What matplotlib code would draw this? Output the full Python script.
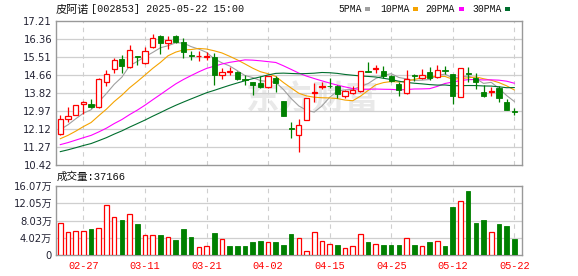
import matplotlib
matplotlib.use("Agg")
import matplotlib.pyplot as plt
import numpy as np
import pandas as pd
from matplotlib.patches import Rectangle

# ---------------- data ----------------
dates = ["02-24","02-25","02-26","02-27","02-28","03-03","03-04","03-05","03-06","03-07",
         "03-10","03-11","03-12","03-13","03-14","03-17","03-18","03-19","03-20","03-21",
         "03-24","03-25","03-26","03-27","03-28","03-31","04-01","04-02","04-03","04-07",
         "04-08","04-09","04-10","04-11","04-14","04-15","04-16","04-17","04-18","04-21",
         "04-22","04-23","04-24","04-25","04-28","04-29","04-30","05-06","05-07","05-08",
         "05-09","05-12","05-13","05-14","05-15","05-16","05-19","05-20","05-21","05-22"]

opens = [11.90,12.59,12.79,13.30,13.31,13.14,14.35,14.96,15.43,15.02,
         15.54,15.23,15.98,16.52,16.17,16.52,16.22,15.59,15.55,15.53,
         15.51,14.65,14.80,14.80,14.47,14.33,14.29,14.08,14.52,13.42,
         12.17,11.85,12.53,13.80,14.11,14.15,14.13,13.66,13.82,13.89,
         14.84,14.96,14.87,14.60,14.25,13.81,14.66,14.52,14.80,14.57,
         14.91,14.71,13.63,14.76,14.52,13.86,13.88,14.05,13.39,12.98]
highs = [12.76,13.17,13.27,13.46,13.55,14.50,14.91,15.46,15.62,16.09,
         15.57,15.98,16.62,16.53,16.52,16.53,16.41,15.78,15.78,15.75,
         15.70,14.99,15.06,14.83,14.68,14.33,14.60,14.60,14.60,13.42,
         12.45,12.59,13.58,14.29,14.33,14.52,14.21,13.97,14.13,14.84,
         15.26,15.12,15.07,14.68,14.33,14.88,14.71,14.96,15.04,15.15,
         15.10,14.71,14.99,15.02,14.76,14.21,14.10,14.13,13.55,13.11]
lows = [11.85,12.43,12.77,12.83,13.13,13.11,14.16,14.76,14.76,14.99,
        15.15,15.20,15.96,15.65,15.89,16.17,15.46,15.39,15.31,15.37,
        14.21,14.49,14.65,14.43,14.21,13.74,14.05,14.05,13.85,12.71,
        11.69,11.02,12.53,13.39,14.02,14.05,13.58,13.58,13.78,13.85,
        14.79,14.76,14.52,14.33,13.66,13.78,14.36,14.49,14.44,14.52,
        14.73,13.31,13.63,14.35,14.00,13.61,13.66,13.37,13.00,12.76]
closes = [12.59,12.74,13.25,13.37,13.17,14.47,14.71,15.39,15.07,15.84,
          15.51,15.81,16.40,16.17,16.33,16.20,15.75,15.56,15.58,15.57,
          14.68,14.80,14.83,14.47,14.41,14.21,14.08,14.60,14.29,12.71,
          12.10,12.32,13.58,13.86,14.16,14.13,13.78,13.89,13.97,14.84,
          14.81,14.99,14.63,14.36,13.94,14.49,14.63,14.68,14.52,14.88,
          14.83,13.66,14.99,14.70,14.33,13.66,13.91,13.58,13.00,12.93]
# closes of the 29 sessions before the visible window (estimated, feed the moving averages)
prior_closes = [10.15,10.30,10.25,10.40,10.35,10.45,10.40,10.50,10.55,10.55,
                10.80,10.95,11.05,11.00,11.20,11.15,11.10,11.25,11.20,11.30,
                11.15,11.30,11.20,11.25,11.25,11.60,11.85,12.05,12.36]

volumes = [7.35,5.34,5.49,5.49,6.03,6.19,11.76,8.74,8.12,9.44,
           7.19,4.56,4.56,4.56,4.10,3.48,6.03,4.18,1.78,2.17,
           5.10,3.63,2.09,2.09,2.09,3.02,3.25,3.02,3.02,2.32,
           4.87,3.87,0.93,5.34,3.25,2.47,2.32,1.55,2.01,4.87,
           3.09,2.55,2.32,2.32,2.32,3.87,2.32,2.01,3.09,3.25,
           2.09,11.14,12.53,14.85,7.50,8.12,5.34,7.19,6.73,3.72]
vol_up = [1,1,1,1,0,1,1,1,0,1, 0,1,1,0,1,0,0,0,1,1,
          0,1,0,0,0,0,0,1,0,0, 0,1,1,1,1,1,0,1,1,1,
          0,1,0,0,0,1,0,1,0,1, 0,0,1,0,0,0,1,0,0,0]

price_ticks = [10.42, 11.27, 12.12, 12.97, 13.82, 14.66, 15.51, 16.36, 17.21]
vol_ticks = [0, 4.02, 8.03, 12.05, 16.07]
vol_tick_labels = ["0", "4.02万", "8.03万", "12.05万", "16.07万"]
date_tick_idx = [3, 11, 19, 27, 35, 43, 51, 59]
ma_periods = [5, 10, 20, 30]
title_name = "皮阿诺"
title_rest = "[002853] 2025-05-22 15:00"
vol_title = "成交量:37166"

# ---------------- style ----------------
RED = "#ff0000"
GREEN = "#008000"
ma_colors = ["#a0a0a0", "#f5a300", "#ff00ff", "#006e2e"]
GRID = "#cfcfcf"
SPINE = "#999999"
LABEL = "#222233"
W, H = 578, 276

fig = plt.figure(figsize=(W/100, H/100), dpi=100)
ax = fig.add_axes([56/W, 1-165/H, 466/W, 144/H])
axv = fig.add_axes([56/W, 1-255/H, 466/W, 69/H])

n = len(closes)
x = np.arange(n)

# moving averages
allc = pd.Series(prior_closes + closes)
for p, col in zip(ma_periods, ma_colors):
    ma = allc.rolling(p).mean().values[-n:]
    ax.plot(x, ma, color=col, lw=0.8, zorder=3)

# candles
bw = 0.68
for i in range(n):
    o, h, l, c = opens[i], highs[i], lows[i], closes[i]
    up = c >= o
    col = RED if up else GREEN
    ax.vlines(x[i], l, h, color=col, lw=0.9, zorder=4)
    bot = min(o, c)
    ht = max(abs(c - o), 0.02)
    if up:
        ax.add_patch(Rectangle((x[i]-bw/2, bot), bw, ht, facecolor="white",
                               edgecolor=col, lw=0.9, zorder=5))
    else:
        ax.add_patch(Rectangle((x[i]-bw/2, bot), bw, ht, facecolor=col,
                               edgecolor=col, lw=0.6, zorder=5))

# volume bars
vw = 0.6
for i in range(n):
    if vol_up[i]:
        axv.add_patch(Rectangle((x[i]-vw/2, 0), vw, volumes[i], facecolor="white",
                                edgecolor=RED, lw=0.9, zorder=3))
    else:
        axv.add_patch(Rectangle((x[i]-vw/2, 0), vw, volumes[i], facecolor=GREEN,
                                edgecolor=GREEN, lw=0.6, zorder=3))

for a in (ax, axv):
    a.set_xlim(-0.56, 60.0)
    for s in a.spines.values():
        s.set_color(SPINE)
        s.set_linewidth(1.0)
    for xi in date_tick_idx:
        a.axvline(xi, color=GRID, lw=0.8, ls=(0, (4, 4)), zorder=1)
    a.tick_params(length=0, colors=LABEL, labelsize=7.2, pad=2.8)

ax.set_ylim(price_ticks[0], price_ticks[-1])
ax.set_yticks(price_ticks)
ax.set_yticklabels([f"{v:.2f}" for v in price_ticks], color=LABEL)
for v in price_ticks[1:-1]:
    ax.axhline(v, color=GRID, lw=0.9, zorder=1)
ax.set_xticks([])

axv.set_ylim(vol_ticks[0], vol_ticks[-1])
axv.set_yticks(vol_ticks)
axv.set_yticklabels(vol_tick_labels, color=LABEL,
                    fontfamily=["DejaVu Sans", "Noto Sans CJK SC"])
for v in vol_ticks[1:-1]:
    axv.axhline(v, color=GRID, lw=0.9, zorder=1)
axv.set_xticks(date_tick_idx)
axv.set_xticklabels([dates[i] for i in date_tick_idx], color=RED,
                    fontfamily=["Liberation Mono"], fontsize=7.4)
axv.tick_params(axis="x", pad=4)

# watermark
ax.text(0.55, 0.45, "东方财富", transform=ax.transAxes, ha="center", va="center",
        fontsize=24, fontweight="bold", color="#e9e9e9", zorder=0,
        family=["Noto Sans CJK SC"])

# titles
fig.text(56/W, 1-9.5/H, title_name, ha="left", va="center", fontsize=8.0,
         family=["Noto Sans CJK SC"], color="#111111")
fig.text(91/W, 1-9.5/H, title_rest, ha="left", va="center", fontsize=7.3,
         family=["Liberation Mono"], color="#111111")
fig.text(57/W, 1-177/H, vol_title, ha="left", va="center", fontsize=7.6,
         family=["Liberation Mono", "Noto Sans CJK SC"], color="#111111")

# legend
leg_names = ["5PMA", "10PMA", "20PMA", "30PMA"]
leg_text_x = [338, 380, 425, 472]
leg_box_x = [365, 413, 459, 505]
for name, tx, bx, col in zip(leg_names, leg_text_x, leg_box_x, ma_colors):
    fig.text(tx/W, 1-9.5/H, name, ha="left", va="center", fontsize=7.0,
             family=["Liberation Mono"], color="#111111")
    fig.patches.append(Rectangle((bx/W, 1-10.5/H), 5/W, 3/H, transform=fig.transFigure,
                                 facecolor=col, edgecolor="none"))

fig.savefig("out.png", dpi=100)
